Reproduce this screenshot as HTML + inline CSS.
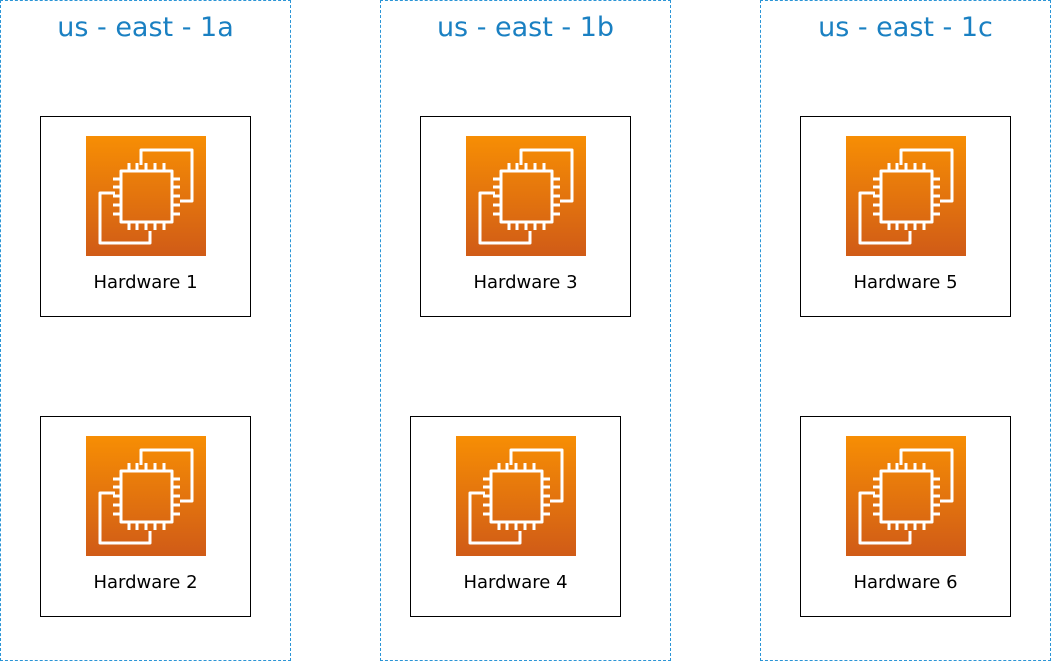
<!DOCTYPE html>
<html><head><style>
body{margin:0;width:1051px;height:661px;background:#fff;position:relative;overflow:hidden;font-family:"DejaVu Sans","Liberation Sans",sans-serif}
.zone{position:absolute;top:0;width:289px;height:659px;border:1px dashed #2b95d6;box-sizing:content-box}
.title{position:absolute;top:11px;left:0;width:100%;text-align:center;font-size:27px;color:#1a80c2}
.box{position:absolute;width:209px;height:199px;border:1px solid #000;background:#fff}
.box svg{position:absolute;left:45px;top:19px}
.lbl{position:absolute;top:155px;width:100%;text-align:center;font-size:18px;color:#000}
</style></head><body>
<svg width="0" height="0" style="position:absolute"><defs>
<linearGradient id="g" x1="0" y1="0" x2="0" y2="1"><stop offset="0" stop-color="#f78e04"/><stop offset="1" stop-color="#d05b17"/></linearGradient>
<symbol id="ic" viewBox="0 0 120 120">
<rect width="120" height="120" fill="url(#g)"/>
<g fill="none" stroke="#fff" stroke-width="3" stroke-linejoin="round">
<polyline points="55,29 55,14 106,14 106,65 94,65"/>
<polyline points="29,57 14,57 14,107 64,107 64,95"/>
<rect x="35" y="35" width="51" height="51"/>
<path d="M43 35v-8M51 35v-8M60 35v-8M69 35v-8M78 35v-8M43 86v8M51 86v8M60 86v8M69 86v8M78 86v8M35 43h-8M35 51h-8M35 60h-8M35 69h-8M35 78h-8M86 43h8M86 51h8M86 60h8M86 69h8M86 78h8"/>
</g></symbol></defs></svg>

<div class="zone" style="left:0"><div class="title">us - east - 1a</div></div>
<div class="zone" style="left:380px"><div class="title">us - east - 1b</div></div>
<div class="zone" style="left:760px"><div class="title">us - east - 1c</div></div>

<div class="box" style="left:40px;top:116px"><svg width="120" height="120"><use href="#ic"/></svg><div class="lbl">Hardware 1</div></div>
<div class="box" style="left:40px;top:416px"><svg width="120" height="120"><use href="#ic"/></svg><div class="lbl">Hardware 2</div></div>
<div class="box" style="left:420px;top:116px"><svg width="120" height="120"><use href="#ic"/></svg><div class="lbl">Hardware 3</div></div>
<div class="box" style="left:410px;top:416px"><svg width="120" height="120"><use href="#ic"/></svg><div class="lbl">Hardware 4</div></div>
<div class="box" style="left:800px;top:116px"><svg width="120" height="120"><use href="#ic"/></svg><div class="lbl">Hardware 5</div></div>
<div class="box" style="left:800px;top:416px"><svg width="120" height="120"><use href="#ic"/></svg><div class="lbl">Hardware 6</div></div>
</body></html>
